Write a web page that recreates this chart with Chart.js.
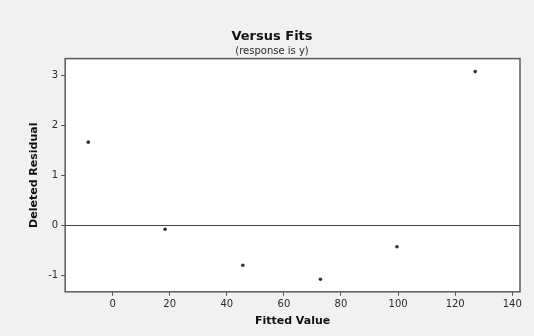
<!DOCTYPE html>
<html>
<head>
<meta charset="utf-8">
<script src="https://cdn.jsdelivr.net/npm/chart.js@4/dist/chart.umd.min.js"></script>
<style>
  html, body { margin: 0; padding: 0; background: #f1f1f1; }
  #wrap { width: 534px; height: 336px; position: relative; }
</style>
</head>
<body>
<div id="wrap"><canvas id="fitsChart" width="534" height="336"></canvas></div>
<script>
// valores
const fittedValues = [-8.5, 18.4, 45.6, 72.8, 99.6, 127.0];
const deletedResiduals = [1.67, -0.07, -0.79, -1.07, -0.42, 3.08];
const xTicks = [0, 20, 40, 60, 80, 100, 120, 140];
const yTicks = [-1, 0, 1, 2, 3];

const FONT = '"DejaVu Sans", Verdana, sans-serif';
const INK = '#2b2b2b';

// fundo branco da área do gráfico + moldura
const plotFrame = {
  id: 'plotFrame',
  beforeDraw(chart) {
    const { ctx, chartArea: a } = chart;
    ctx.save();
    ctx.fillStyle = '#ffffff';
    ctx.fillRect(a.left, a.top, a.right - a.left, a.bottom - a.top);
    ctx.restore();
  },
  afterDraw(chart) {
    const { ctx, chartArea: a } = chart;
    ctx.save();
    ctx.strokeStyle = '#5a5a5a';
    ctx.lineWidth = 1.5;
    ctx.strokeRect(a.left, a.top, a.right - a.left, a.bottom - a.top);
    ctx.restore();
  }
};

const fixTicks = list => scale => { scale.ticks = list.map(v => ({ value: v })); };

new Chart(document.getElementById('fitsChart').getContext('2d'), {
  type: 'scatter',
  data: {
    datasets: [{
      data: fittedValues.map((x, i) => ({ x, y: deletedResiduals[i] })),
      pointRadius: 1.8,
      pointBackgroundColor: '#333',
      pointBorderWidth: 0
    }]
  },
  options: {
    responsive: false,
    animation: false,
    layout: { padding: { left: 24, right: 14, top: 4, bottom: 4 } },
    plugins: {
      legend: { display: false },
      tooltip: { enabled: false },
      title: {
        display: true,
        text: 'Versus Fits',
        color: '#111',
        font: { family: FONT, size: 13, weight: 'bold' },
        padding: { top: 25, bottom: 1 }
      },
      subtitle: {
        display: true,
        text: '(response is y)',
        color: INK,
        font: { family: FONT, size: 10 },
        padding: { bottom: 1 }
      }
    },
    scales: {
      x: {
        type: 'linear',
        min: -16.6,
        max: 142.7,
        afterBuildTicks: fixTicks(xTicks),
        border: { display: false },
        grid: { drawOnChartArea: false, drawTicks: true, tickLength: 4, tickColor: '#555' },
        ticks: { color: INK, font: { family: FONT, size: 10 }, padding: 3, maxRotation: 0 },
        title: { display: true, text: 'Fitted Value', color: '#111', font: { family: FONT, size: 11, weight: 'bold' }, padding: { top: 1 } }
      },
      y: {
        type: 'linear',
        min: -1.32,
        max: 3.34,
        afterBuildTicks: fixTicks(yTicks),
        border: { display: false },
        grid: {
          drawOnChartArea: true,
          drawTicks: true,
          tickLength: 4,
          tickColor: '#555',
          color: c => (c.tick && c.tick.value === 0 ? '#444' : 'rgba(0,0,0,0)'),
          lineWidth: 1
        },
        ticks: { color: INK, font: { family: FONT, size: 10 }, padding: 3 },
        title: { display: true, text: 'Deleted Residual', color: '#111', font: { family: FONT, size: 11, weight: 'bold' }, padding: { bottom: 4 } }
      }
    }
  },
  plugins: [plotFrame]
});
</script>
</body>
</html>
